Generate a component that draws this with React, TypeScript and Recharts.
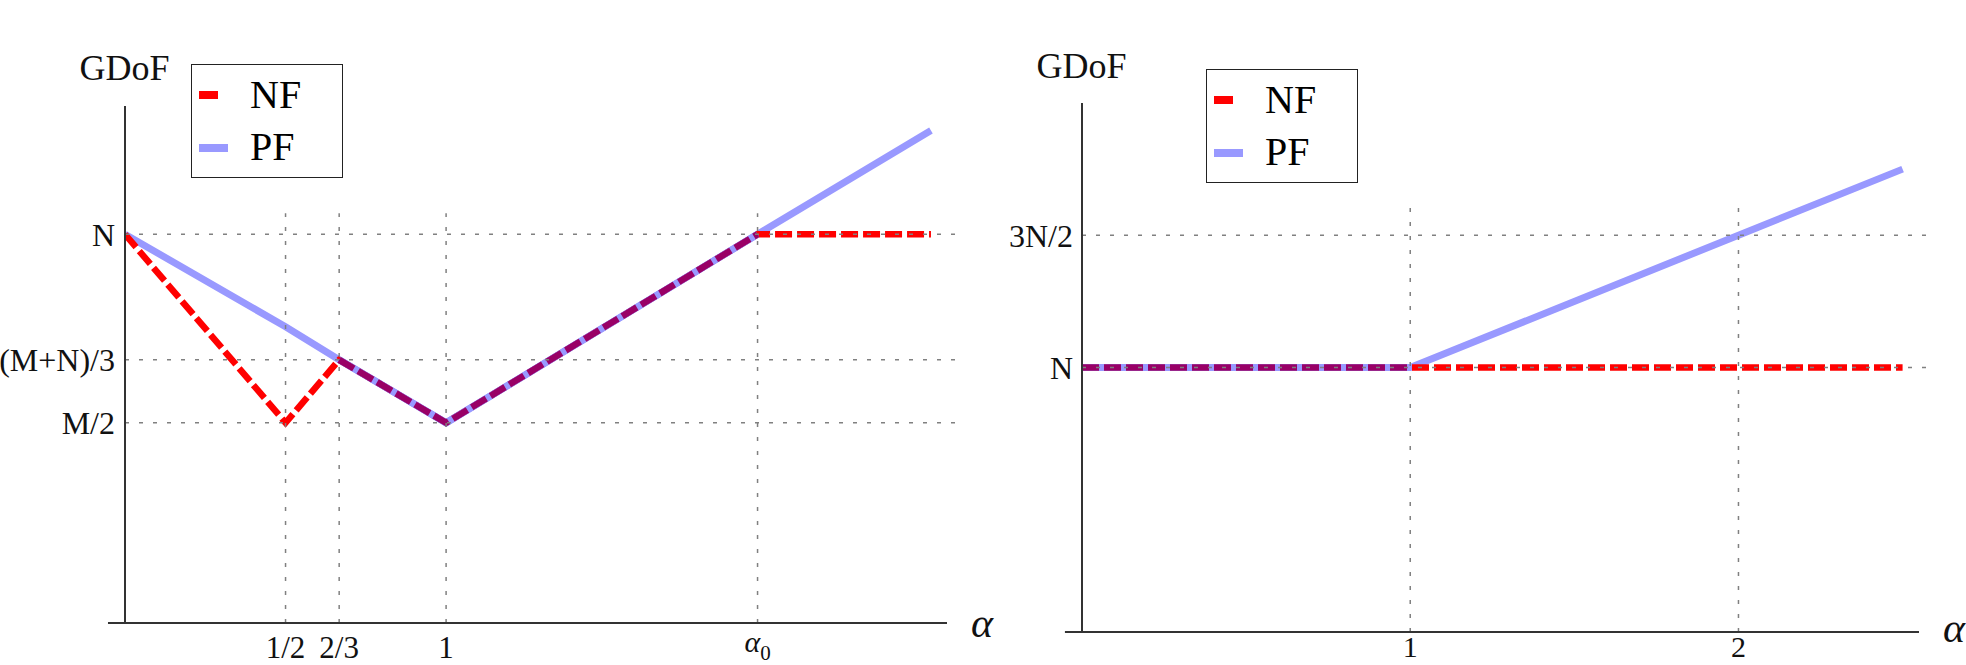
import { Label, Line, LineChart, ReferenceLine, XAxis, YAxis } from "recharts";

// left panel: GDoF vs alpha, N = 1, M ~ 1.03
const alphaLeft = [0, 0.5, 0.667, 1, 1.97, 2.51];
const nfLeft = [1, 0.515, 0.677, 0.515, 1, 1];
const pfLeft = [1, 0.762, 0.677, 0.515, 1, 1.267];
const xTicksLeft = [0.5, 0.667, 1, 1.97];
const xLabelsLeft = ["1/2", "2/3", "1", "α_0"];
const yTicksLeft = [0.515, 0.677, 1];
const yLabelsLeft = ["M/2", "(M+N)/3", "N"];

// right panel
const alphaRight = [0, 1, 2, 2.5];
const nfRight = [1, 1, 1, 1];
const pfRight = [1, 1, 1.5, 1.75];
const xTicksRight = [1, 2];
const xLabelsRight = ["1", "2"];
const yTicksRight = [1, 1.5];
const yLabelsRight = ["N", "3N/2"];

const NF_COLOR = "#ff0000";
const PF_COLOR = "#9999ff";
const SHARED_COLOR = "#990066";
const AXIS_COLOR = "#333";
const GRID_COLOR = "#808080";
const FONT = '"Liberation Serif", "Times New Roman", serif';

function buildRows(alpha: number[], nf: number[], pf: number[]) {
  return alpha.map((a, i) => ({
    alpha: a,
    nf: nf[i],
    pf: pf[i],
    shared: nf[i] === pf[i] ? nf[i] : null,
    sharedBg: nf[i] === pf[i] ? nf[i] : null,
  }));
}

function makeXTick(ticks: number[], labels: string[], fontSize: number) {
  return function XTick(props: any) {
    const { x, y, payload } = props;
    const idx = ticks.indexOf(payload.value);
    const label = labels[idx] ?? "";
    if (label.includes("_")) {
      const [main, sub] = label.split("_");
      return (
        <text x={x} y={y + 16} textAnchor="middle" fill="#111" fontFamily={FONT}>
          <tspan fontSize={30} fontStyle="italic">{main}</tspan>
          <tspan fontSize={21} dy={8}>{sub}</tspan>
        </text>
      );
    }
    return (
      <text x={x} y={y} dy="0.71em" textAnchor="middle" fill="#111" fontSize={fontSize} fontFamily={FONT}>
        {label}
      </text>
    );
  };
}

function makeYTick(ticks: number[], labels: string[]) {
  return function YTick(props: any) {
    const { x, y, payload } = props;
    const idx = ticks.indexOf(payload.value);
    return (
      <text x={x} y={y} dy="0.355em" textAnchor="end" fill="#111" fontSize={32} fontFamily={FONT}>
        {labels[idx] ?? ""}
      </text>
    );
  };
}

function LegendBox({ left, top }: { left: number; top: number }) {
  const text = { position: "absolute" as const, left: 58, fontSize: 40, lineHeight: "40px", fontFamily: FONT, color: "#000" };
  return (
    <div
      style={{
        position: "absolute",
        left,
        top,
        width: 152,
        height: 114,
        border: "1.5px solid #222",
        boxSizing: "border-box",
        background: "#fff",
      }}
    >
      <div style={{ position: "absolute", left: 7, top: 26, width: 19, height: 8, background: NF_COLOR }} />
      <div style={{ ...text, top: 10 }}>NF</div>
      <div style={{ position: "absolute", left: 7, top: 79, width: 29, height: 8, background: PF_COLOR }} />
      <div style={{ ...text, top: 62 }}>PF</div>
    </div>
  );
}

type PanelProps = {
  rows: ReturnType<typeof buildRows>;
  width: number;
  margin: { top: number; right: number; left: number; bottom: number };
  yAxisWidth: number;
  xAxisHeight: number;
  xDomain: [number, number];
  yDomain: [number, number];
  xTicks: number[];
  xLabels: string[];
  yTicks: number[];
  yLabels: string[];
  xTickMargin: number;
  xTickFont: number;
  yTickMargin: number;
  vGridTop: number;
  hGridRight: number;
  axisLeftExt: number;
  yTitleGap: number;
  xTitleDy: number;
};

function Panel(p: PanelProps) {
  const XTick = makeXTick(p.xTicks, p.xLabels, p.xTickFont);
  const YTick = makeYTick(p.yTicks, p.yLabels);
  return (
    <LineChart width={p.width} height={665} data={p.rows} margin={p.margin}>
      <XAxis
        type="number"
        dataKey="alpha"
        domain={p.xDomain}
        ticks={p.xTicks}
        allowDataOverflow
        axisLine={false}
        tickLine={false}
        tickSize={0}
        tickMargin={p.xTickMargin}
        height={p.xAxisHeight}
        tick={<XTick />}
        interval={0}
      >
        <Label
          content={(lp: any) => {
            const vb = lp.viewBox;
            return (
              <text
                x={vb.x + vb.width + 35}
                y={vb.y + p.xTitleDy}
                textAnchor="middle"
                fontSize={42}
                fontStyle="italic"
                fontFamily={FONT}
                fill="#111"
              >
                α
              </text>
            );
          }}
        />
      </XAxis>
      <YAxis
        type="number"
        domain={p.yDomain}
        ticks={p.yTicks}
        allowDataOverflow
        axisLine={{ stroke: AXIS_COLOR, strokeWidth: 2 }}
        tickLine={false}
        tickSize={0}
        tickMargin={p.yTickMargin}
        width={p.yAxisWidth}
        tick={<YTick />}
        interval={0}
      >
        <Label
          content={(lp: any) => {
            const vb = lp.viewBox;
            return (
              <text
                x={vb.x + vb.width - 0.5}
                y={vb.y - p.yTitleGap}
                textAnchor="middle"
                fontSize={36}
                fontFamily={FONT}
                fill="#111"
              >
                GDoF
              </text>
            );
          }}
        />
      </YAxis>

      <Line dataKey="pf" name="PF" stroke={PF_COLOR} strokeWidth={7} dot={false} activeDot={false} isAnimationActive={false} />
      <Line
        dataKey="nf"
        name="NF"
        stroke={NF_COLOR}
        strokeWidth={6.5}
        strokeDasharray="17 5"
        dot={false}
        activeDot={false}
        isAnimationActive={false}
      />
      <Line dataKey="sharedBg" stroke={PF_COLOR} strokeWidth={7} dot={false} activeDot={false} isAnimationActive={false} legendType="none" />
      <Line
        dataKey="shared"
        stroke={SHARED_COLOR}
        strokeWidth={6.5}
        strokeDasharray="17 5"
        dot={false}
        activeDot={false}
        isAnimationActive={false}
        legendType="none"
      />

      {p.yTicks.map((t) => (
        <ReferenceLine
          key={"h" + t}
          segment={[
            { x: 0, y: t },
            { x: p.hGridRight, y: t },
          ]}
          stroke={GRID_COLOR}
          strokeWidth={1.5}
          strokeDasharray="4 10"
          ifOverflow="visible"
        />
      ))}
      {p.xTicks.map((t) => (
        <ReferenceLine
          key={"v" + t}
          segment={[
            { x: t, y: 0 },
            { x: t, y: p.vGridTop },
          ]}
          stroke={GRID_COLOR}
          strokeWidth={1.5}
          strokeDasharray="4 10"
          ifOverflow="visible"
        />
      ))}
      <ReferenceLine
        segment={[
          { x: p.axisLeftExt, y: 0 },
          { x: p.xDomain[1], y: 0 },
        ]}
        stroke={AXIS_COLOR}
        strokeWidth={2}
        ifOverflow="visible"
      />
    </LineChart>
  );
}

export default function App() {
  const leftRows = buildRows(alphaLeft, nfLeft, pfLeft);
  const rightRows = buildRows(alphaRight, nfRight, pfRight);
  return (
    <div style={{ position: "absolute", left: 0, top: 0, width: 1966, height: 665, background: "#fff", fontFamily: FONT }}>
      <div style={{ position: "absolute", left: 0, top: 0 }}>
        <Panel
          rows={leftRows}
          width={1000}
          margin={{ top: 106, right: 53, left: 25, bottom: 2 }}
          yAxisWidth={100}
          xAxisHeight={40}
          xDomain={[0, 2.56]}
          yDomain={[0, 1.33]}
          xTicks={xTicksLeft}
          xLabels={xLabelsLeft}
          yTicks={yTicksLeft}
          yLabels={yLabelsLeft}
          xTickMargin={13}
          xTickFont={31}
          yTickMargin={10}
          vGridTop={1.054}
          hGridRight={2.59}
          axisLeftExt={-0.053}
          yTitleGap={26}
          xTitleDy={14}
        />
      </div>
      <div style={{ position: "absolute", left: 1000, top: 0 }}>
        <Panel
          rows={rightRows}
          width={966}
          margin={{ top: 103, right: 47, left: 12, bottom: 3 }}
          yAxisWidth={70}
          xAxisHeight={30}
          xDomain={[0, 2.55]}
          yDomain={[0, 2]}
          xTicks={xTicksRight}
          xLabels={xLabelsRight}
          yTicks={yTicksRight}
          yLabels={yLabelsRight}
          xTickMargin={4}
          xTickFont={30}
          yTickMargin={9}
          vGridTop={1.62}
          hGridRight={2.59}
          axisLeftExt={-0.052}
          yTitleGap={25}
          xTitleDy={10}
        />
      </div>
      <LegendBox left={191} top={64} />
      <LegendBox left={1206} top={69} />
    </div>
  );
}
